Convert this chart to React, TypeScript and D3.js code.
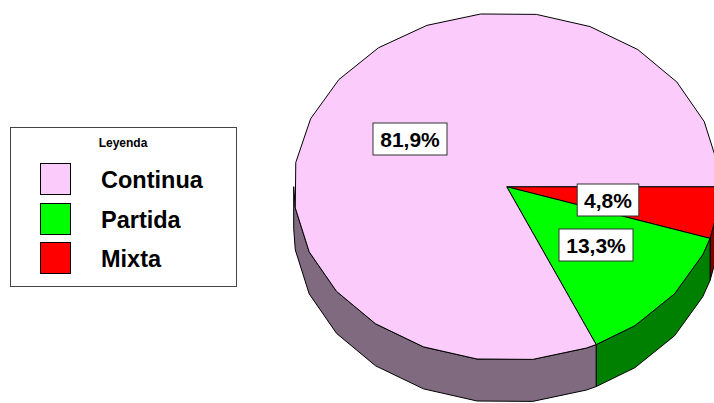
import React from "react";
import * as d3 from "d3";

const categories = ["Continua", "Partida", "Mixta"];
const values = [81.9, 13.3, 4.8];
const valueLabels = ["81,9%", "13,3%", "4,8%"];
const legendTitle = "Leyenda";

const W = 714;
const H = 403;
const cx = 506.7;
const cy = 186.7;
const rx = 213;
const ry = 174;
const depth = 42;

const topFills = ["#fbcbfb", "#00ff00", "#ff0000"];
const sideFills = ["#7f6a7f", "#008000", "#800000"];
const labelPos = [
  { x: 410, y: 139 },
  { x: 596, y: 245 },
  { x: 608, y: 200 },
];

// convert d3 pie angle (0 = up, clockwise) to screen point
const pt = (a: number, dy = 0): [number, number] => [
  cx + rx * Math.sin(a),
  cy - ry * Math.cos(a) + dy,
];

const STEP = (15 * Math.PI) / 180;
const OFF = ((90 - 7) * Math.PI) / 180;

function arcAngles(a0: number, a1: number): number[] {
  const out = [a0];
  let k = Math.ceil((a0 - OFF) / STEP);
  let a = OFF + k * STEP;
  while (a < a1) {
    if (a > a0 + 1e-6) out.push(a);
    k++;
    a = OFF + k * STEP;
  }
  out.push(a1);
  return out;
}

export default function App() {
  const order = [2, 1, 0];
  const pie = d3
    .pie<number>()
    .sort(null)
    .value((i) => values[i])
    .startAngle(Math.PI / 2)
    .endAngle(Math.PI / 2 + 2 * Math.PI);
  const arcs = pie(order);

  const line = d3.line();

  const sides = arcs.map((d) => {
    const lo = Math.max(d.startAngle, Math.PI / 2);
    const hi = Math.min(d.endAngle, (3 * Math.PI) / 2);
    if (hi <= lo) return null;
    const angs = arcAngles(lo, hi);
    const top = angs.map((a) => pt(a));
    const bot = angs.slice().reverse().map((a) => pt(a, depth));
    return { i: d.data, path: line([...top, ...bot])! + "Z" };
  });

  const tops = arcs.map((d) => {
    const angs = arcAngles(d.startAngle, d.endAngle);
    const pts: [number, number][] = [[cx, cy], ...angs.map((a) => pt(a))];
    return { i: d.data, path: line(pts)! + "Z" };
  });

  const legendY = [163, 203, 242];

  return (
    <svg
      width={W}
      height={H}
      style={{ position: "fixed", left: 0, top: 0, background: "#fff" }}
      fontFamily="'Liberation Sans', Arial, sans-serif"
    >
      <rect width={W} height={H} fill="#fff" />
      {sides.map((s) =>
        s ? (
          <path key={"s" + s.i} d={s.path} fill={sideFills[s.i]} stroke="#000" strokeWidth={1} strokeLinejoin="round" />
        ) : null
      )}
      {tops.map((t) => (
        <path key={"t" + t.i} d={t.path} fill={topFills[t.i]} stroke="#000" strokeWidth={1} strokeLinejoin="round" />
      ))}
      {valueLabels.map((lab, i) => {
        const w = lab.length * 12.4 + 12;
        const p = labelPos[i];
        return (
          <g key={"l" + i}>
            <rect x={p.x - w / 2} y={p.y - 16} width={w} height={32} fill="#fff" stroke="#333" strokeWidth={1} />
            <text x={p.x} y={p.y + 7.5} textAnchor="middle" fontSize={21} fontWeight="bold" fill="#000">
              {lab}
            </text>
          </g>
        );
      })}
      <rect x={10.5} y={127.5} width={226} height={159} fill="#fff" stroke="#444" strokeWidth={1} />
      <text x={123} y={147} textAnchor="middle" fontSize={12} fontWeight="bold">
        {legendTitle}
      </text>
      {categories.map((c, i) => (
        <g key={"lg" + i}>
          <rect x={40.5} y={legendY[i] + 0.5} width={30} height={31} fill={topFills[i]} stroke="#000" strokeWidth={1} />
          <text x={101} y={legendY[i] + 25} fontSize={23.5} fontWeight="bold" fill="#000">
            {c}
          </text>
        </g>
      ))}
    </svg>
  );
}
